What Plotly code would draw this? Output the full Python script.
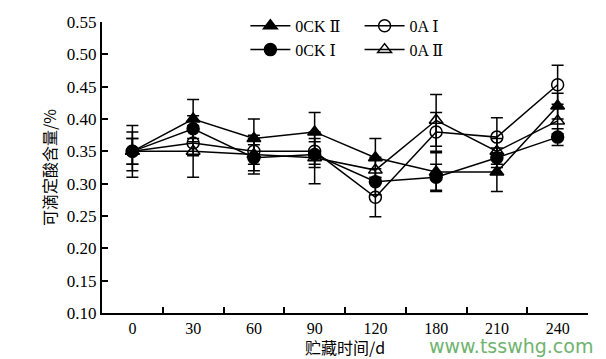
import plotly.graph_objects as go

days = ["0", "30", "60", "90", "120", "180", "210", "240"]

ock2 = [0.35, 0.40, 0.37, 0.38, 0.34, 0.318, 0.318, 0.42]
ock2_err = [0.04, 0.03, 0.03, 0.03, 0.03, 0.03, 0.03, 0.02]
ock1 = [0.35, 0.385, 0.34, 0.345, 0.303, 0.31, 0.34, 0.372]
ock1_err = [0.03, 0.02, 0.02, 0.02, 0.02, 0.02, 0.015, 0.013]
oa1 = [0.35, 0.363, 0.35, 0.35, 0.279, 0.38, 0.372, 0.453]
oa1_err = [0.02, 0.02, 0.02, 0.02, 0.03, 0.03, 0.03, 0.03]
oa2 = [0.35, 0.35, 0.345, 0.34, 0.321, 0.398, 0.35, 0.397]
oa2_err = [0.02, 0.04, 0.03, 0.04, 0.02, 0.04, 0.02, 0.02]

series = [
    ("0CK Ⅱ", ock2, ock2_err, "triangle-up", "legend"),
    ("0CK Ⅰ", ock1, ock1_err, "circle", "legend"),
    ("0A Ⅰ", oa1, oa1_err, "circle-open", "legend2"),
    ("0A Ⅱ", oa2, oa2_err, "triangle-up-open", "legend2"),
]

fig = go.Figure()
for name, vals, err, sym, leg in series:
    fig.add_trace(go.Scatter(
        x=days, y=vals, name=name, mode="lines+markers",
        line=dict(color="black", width=1.5),
        marker=dict(symbol=sym, size=12, color="black",
                    line=dict(color="black", width=1.5)),
        error_y=dict(type="data", array=err, visible=True,
                     color="black", thickness=1.5, width=6),
        legend=leg,
    ))

serif = "Liberation Serif, DejaVu Serif, Times New Roman, serif"
cjk = "Noto Sans CJK SC"

fig.update_layout(
    width=606, height=359,
    margin=dict(l=102, r=18, t=22, b=46, autoexpand=False),
    paper_bgcolor="white", plot_bgcolor="white",
    font=dict(family=serif, size=17, color="black"),
    legend=dict(x=0.295, y=1.045, xanchor="left", yanchor="top",
                bgcolor="rgba(0,0,0,0)", font=dict(size=16, family=serif),
                tracegroupgap=0, itemwidth=40),
    legend2=dict(x=0.53, y=1.045, xanchor="left", yanchor="top",
                 bgcolor="rgba(0,0,0,0)", font=dict(size=16, family=serif),
                 tracegroupgap=0, itemwidth=40),
    xaxis=dict(
        type="category", range=[-0.5, 7.5], automargin=False,
        showline=True, linecolor="black", linewidth=2,
        ticks="inside", ticklen=6, tickwidth=1.5, tickcolor="black",
        tickson="boundaries", showgrid=False, zeroline=False,
        tickfont=dict(family=serif, size=16),
        title=dict(text="贮藏时间/d", font=dict(family=cjk, size=16), standoff=2),
    ),
    yaxis=dict(
        range=[0.10, 0.55], dtick=0.05, tick0=0.10, tickformat=".2f",
        automargin=False,
        showline=True, linecolor="black", linewidth=2,
        ticks="inside", ticklen=6, tickwidth=1.5, tickcolor="black",
        showgrid=False, zeroline=False,
        tickfont=dict(family=serif, size=17),
        title=dict(text="可滴定酸含量/%", font=dict(family=cjk, size=16), standoff=6),
    ),
)

fig.add_annotation(
    text="www.tsswhg.com", xref="paper", yref="paper",
    x=1.015, y=-0.115, xanchor="right", yanchor="middle", showarrow=False,
    font=dict(family="DejaVu Sans, sans-serif", size=19, color="#6fb36f"),
)

fig.write_html("out.html", config={"displayModeBar": False},
               post_script="document.body.style.margin='0';document.body.style.padding='0';")
